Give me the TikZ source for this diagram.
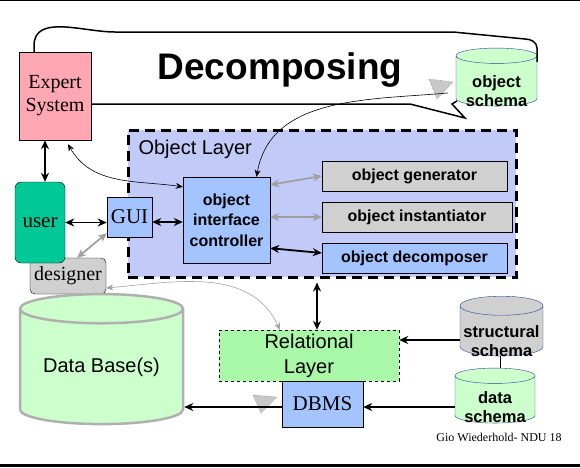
\documentclass[tikz,border=0pt]{standalone}
\usepackage{fontspec}
\setmainfont{Liberation Serif}
\setsansfont{Liberation Sans}
\usetikzlibrary{shapes.geometric, arrows.meta, positioning, calc}
\definecolor{expertpink}{HTML}{FFA8B4}
\definecolor{userteal}{HTML}{00C896}
\definecolor{layerblue}{HTML}{C2CAF8}
\definecolor{ctrlblue}{HTML}{A4C4FF}
\definecolor{boxgray}{HTML}{D0D0D0}
\definecolor{relgreen}{HTML}{A8F8A8}
\definecolor{schemagreen}{HTML}{CCFFCC}
\definecolor{cylblue}{HTML}{3040A0}
\definecolor{dbgray}{HTML}{B0B0B0}
\definecolor{arrowgray}{HTML}{A0A0A0}
\definecolor{trigray}{HTML}{C8C8C8}
\tikzset{
  dg box/.style={
    rectangle, draw=black, thin, inner sep=1pt, align=center
  },
  dg serif/.style={
    dg box, font=\fontsize{20}{23}\selectfont
  },
  dg ctrl/.style={
    dg box, fill=ctrlblue, font=\sffamily\bfseries\fontsize{16}{20.5}\selectfont
  },
  dg cyl/.style={
    cylinder, shape border rotate=90, shape aspect=0.25, draw=cylblue, thin,
    fill=schemagreen, align=center, inner sep=0pt,
    font=\sffamily\bfseries\fontsize{16.5}{19}\selectfont
  },
  dg cyl text/.style={
    align=center, inner sep=0pt, font=\sffamily\bfseries\fontsize{16.5}{19}\selectfont
  },
  dg arrow/.style={
    {Stealth[length=9pt,width=8pt]}-{Stealth[length=9pt,width=8pt]}, line width=1.8pt
  },
  dg single/.style={
    -{Stealth[length=9pt,width=8pt]}, line width=1.8pt
  },
  dg gray arrow/.style={
    dg arrow, draw=arrowgray
  },
  dg thin/.style={
    {Stealth[length=7pt,width=6pt]}-{Stealth[length=7pt,width=6pt]}, line width=0.6pt
  },
  dg callout/.style={
    line width=1.5pt
  },
  dg tri/.style={
    fill=trigray, draw=black!60, densely dotted, thin
  }
}

\begin{document}
\begin{tikzpicture}[x=1pt, y=-1pt]
  \fill [white] (0,0) rectangle (580,467);
  \useasboundingbox (0,0) rectangle (580,467);
  \draw [line width=1pt] (0,0.5) -- (580,0.5);
  \fill [black] (0,464) rectangle (580,467);

  % object layer frame
  \node (objlayer) [draw, fill=layerblue, line width=3pt, dash pattern=on 10pt off 6pt,
    minimum width=388pt, minimum height=147pt, inner sep=0pt] at (322,203.5) {};
  \node (objlabel) [anchor=west, font=\sffamily\fontsize{20}{24}\selectfont] at (135,149) {Object Layer};

  \node (title) [font=\sffamily\bfseries\fontsize{37}{40}\selectfont] at (280,70) {Decomposing};

  \node (expert) [dg serif, fill=expertpink, minimum width=72pt, minimum height=88pt] at (55,96) {Expert\\System};
  \node (designer) [dg serif, fill=boxgray, rounded corners=5pt, minimum width=76pt, minimum height=36pt] at (68,276) {designer};
  \node (user) [dg serif, fill=userteal, rounded corners=6pt, minimum width=50pt, minimum height=81pt,
    font=\fontsize{21}{24}\selectfont] at (40,222.5) {user};
  \node (gui) [dg serif, fill=ctrlblue, minimum width=45pt, minimum height=40pt,
    font=\fontsize{21}{24}\selectfont] at (129.5,217) {GUI};

  \node (ctrl) [dg ctrl, minimum width=87pt, minimum height=86pt] at (226.5,220) {object\\interface\\controller};
  \node (gen) [dg ctrl, fill=boxgray, minimum width=185pt, minimum height=30pt] at (414.5,176) {object generator};
  \node (inst) [dg ctrl, fill=boxgray, minimum width=190pt, minimum height=30pt] at (417,217) {object instantiator};
  \node (dec) [dg ctrl, minimum width=185pt, minimum height=30pt] at (414.5,258) {object decomposer};

  \node (oschema) [dg cyl, minimum width=81pt, minimum height=58pt] at (496.5,81) {\phantom{object}\\\phantom{schema}};
  \node (oschematext) [dg cyl text] at ([yshift=-10pt]oschema.center) {object\\schema};
  \node (sschema) [dg cyl, fill=boxgray, minimum width=83pt, minimum height=52pt] at (501.5,331) {\phantom{structural}\\\phantom{schema}};
  \node (sschematext) [dg cyl text] at ([yshift=-10pt]sschema.center) {structural\\schema};
  \node (dschema) [dg cyl, minimum width=80pt, minimum height=55pt] at (495,399.5) {\phantom{data}\\\phantom{schema}};
  \node (dschematext) [dg cyl text] at ([yshift=-8pt]dschema.center) {data\\schema};

  \node (rel) [draw, thin, dashed, fill=relgreen, minimum width=180pt, minimum height=51pt, align=center,
    font=\sffamily\fontsize{20}{25}\selectfont] at (309,355.5) {Relational\\Layer};
  \node (dbms) [dg serif, fill=ctrlblue, minimum width=81pt, minimum height=46pt,
    font=\fontsize{21}{24}\selectfont] at (322.5,404) {DBMS};
  \node (db) [dg cyl, draw=dbgray, line width=2.5pt, minimum width=163pt, minimum height=130pt,
    font=\sffamily\fontsize{20}{24}\selectfont] at (101.5,367) {Data Base(s)};

  \node (credit) [font=\fontsize{12}{14}\selectfont] at (499,437) {Gio Wiederhold- NDU 18};

  % callout outline round the title
  \coordinate (loopend) at (537,62);
  \draw [dg callout] ([xshift=-21pt]expert.north) -- ++(0,-6) to[out=90,in=180] (115,32)
    -- (453,32) -- (525,39) to[out=0,in=90] (537,48) -- (loopend);
  \draw [dg callout] ([yshift=-8pt]expert.east) -- (410,104) -- (465,118) -- (452,104) -- (457,101);
  \draw [dg tri] (429,79) -- (453,82) -- (437,99) -- cycle;
  \draw [dg tri] (253,395) -- (277,397) -- (261,413) -- cycle;

  % connectors
  \draw [dg arrow] ([xshift=-10pt]expert.south) -- ([xshift=5pt]user.north);
  \draw [dg arrow] (user.east) -- (user.east -| gui.west);
  \draw [dg arrow] ([yshift=-5pt]gui.east) -- ([yshift=-5pt]gui.east -| ctrl.west);
  \draw [dg gray arrow] ([xshift=9pt]designer.north) -- ([yshift=4pt]gui.south west);
  \draw [dg gray arrow] ([yshift=-8pt]ctrl.north east) -- (gen.west);
  \draw [dg gray arrow] (inst.west -| ctrl.east) -- (inst.west);
  \draw [dg arrow] ([yshift=15pt]ctrl.south east) -- ([yshift=5pt]dec.west);
  \draw [dg arrow, shorten <=4pt] ([xshift=8pt]rel.north |- objlayer.south) -- ([xshift=8pt]rel.north);
  \draw [dg thin] ([xshift=13pt,yshift=-4pt]expert.south) to[out=-60,in=172] ([yshift=-10pt]ctrl.north west);
  \draw [dg thin, {Stealth[length=7pt,width=6pt]}-] ([xshift=30pt]ctrl.north) to[out=80,in=185] ([xshift=-8pt,yshift=-12pt]oschema.west);
  \draw [dg thin, draw=arrowgray] ([yshift=-12pt]designer.east) to[out=5,in=115] ([xshift=-29pt]rel.north);
  \draw [dg single] ([yshift=-9pt]sschema.west) -- ([yshift=-9pt]sschema.west -| rel.east);
  \draw [dg single] ([yshift=-7.5pt]dschema.west) -- ([yshift=-7.5pt]dschema.west -| dbms.east);
  \draw [dg single] ([yshift=-3pt]dbms.west) -- ([yshift=-3pt]dbms.west -| db.east);
  \draw [double, double distance=2pt, thin] (sschema.south) -- (sschema.south |- dschema.north);
\end{tikzpicture}
\end{document}
